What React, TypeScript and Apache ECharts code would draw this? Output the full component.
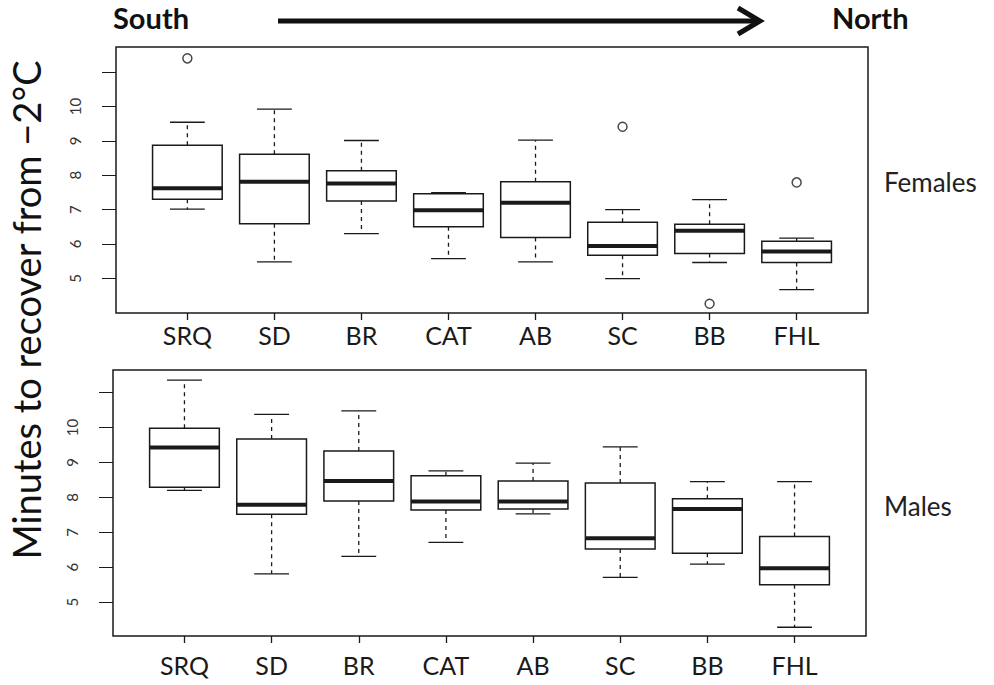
import React, { useEffect, useRef } from "react";
import * as echarts from "echarts";

const categories = ["SRQ", "SD", "BR", "CAT", "AB", "SC", "BB", "FHL"];

// Females: lower whisker, Q1, median, Q3, upper whisker
const femalesLow = [7.01, 5.48, 6.30, 5.57, 5.48, 4.99, 5.46, 4.67];
const femalesQ1 = [7.30, 6.59, 7.25, 6.50, 6.19, 5.67, 5.72, 5.46];
const femalesMedian = [7.62, 7.81, 7.76, 6.98, 7.20, 5.94, 6.38, 5.78];
const femalesQ3 = [8.87, 8.61, 8.13, 7.46, 7.81, 6.63, 6.57, 6.08];
const femalesHigh = [9.54, 9.92, 9.01, 7.49, 9.02, 7.00, 7.29, 6.17];
// outliers: [category index (1-based), value]
const femalesOutliers = [
  [1, 11.40],
  [6, 9.41],
  [7, 4.26],
  [8, 7.79],
];

// Males
const malesLow = [8.20, 5.81, 6.31, 6.71, 7.53, 5.71, 6.09, 4.28];
const malesQ1 = [8.29, 7.52, 7.90, 7.64, 7.67, 6.52, 6.40, 5.50];
const malesMedian = [9.43, 7.79, 8.47, 7.88, 7.88, 6.83, 7.67, 5.97];
const malesQ3 = [9.98, 9.67, 9.33, 8.62, 8.47, 8.41, 7.96, 6.88];
const malesHigh = [11.36, 10.38, 10.48, 8.76, 8.98, 9.45, 8.45, 8.45];
const malesOutliers: number[][] = [];

const yTicks = [5, 6, 7, 8, 9, 10, 11];
const yLabels = [5, 6, 7, 8, 9, 10];
const xPositions = [1, 2, 3, 4, 5, 6, 7, 8];

const FONT = "Lato, 'Open Sans', sans-serif";
const INK = "#1a1a1a";

function buildBox(low: number[], q1: number[], med: number[], q3: number[], high: number[]) {
  return categories.map((_, i) => [i + 1, low[i], q1[i], med[i], q3[i], high[i]]);
}

function renderBox(params: any, api: any) {
  const x = api.value(0);
  const low = api.coord([x, api.value(1)]);
  const q1 = api.coord([x, api.value(2)]);
  const med = api.coord([x, api.value(3)]);
  const q3 = api.coord([x, api.value(4)]);
  const high = api.coord([x, api.value(5)]);
  const bw = api.size([0.8, 0])[0];
  const cw = api.size([0.4, 0])[0];
  const cx = low[0];
  const line = (x1: number, y1: number, x2: number, y2: number, extra: any = {}) => ({
    type: "line",
    shape: { x1, y1, x2, y2 },
    style: { stroke: INK, lineWidth: 1.3, ...extra },
  });
  return {
    type: "group",
    children: [
      line(cx, q3[1], cx, high[1], { lineDash: [4, 4] }),
      line(cx, q1[1], cx, low[1], { lineDash: [4, 4] }),
      line(cx - cw / 2, high[1], cx + cw / 2, high[1]),
      line(cx - cw / 2, low[1], cx + cw / 2, low[1]),
      {
        type: "rect",
        shape: { x: cx - bw / 2, y: q3[1], width: bw, height: q1[1] - q3[1] },
        style: { fill: "#fff", stroke: INK, lineWidth: 1.5 },
      },
      line(cx - bw / 2, med[1], cx + bw / 2, med[1], { lineWidth: 4 }),
    ],
  };
}

function xAxisFor(gridIndex: number, margin: number) {
  return {
    type: "value",
    gridIndex,
    min: 0.18,
    max: 8.82,
    axisLine: { show: false },
    splitLine: { show: false },
    axisTick: { show: true, customValues: xPositions, length: 7, lineStyle: { color: INK, width: 1.3 } },
    axisLabel: {
      customValues: xPositions,
      formatter: (v: number) => categories[Math.round(v) - 1] ?? "",
      fontFamily: FONT,
      fontSize: 25,
      color: INK,
      margin,
    },
  };
}

function yAxisFor(gridIndex: number, min: number, max: number) {
  return {
    type: "value",
    gridIndex,
    min,
    max,
    axisLine: { show: false },
    splitLine: { show: false },
    axisTick: { show: true, customValues: yTicks, length: 14, lineStyle: { color: INK, width: 1 } },
    axisLabel: {
      customValues: yLabels,
      rotate: 90,
      fontFamily: FONT,
      fontSize: 15,
      color: "#333",
      margin: 34,
    },
  };
}

export default function App() {
  const ref = useRef<HTMLDivElement>(null);
  useEffect(() => {
    if (!ref.current) return;
    const chart = echarts.init(ref.current, null, { renderer: "svg" });
    const outlierStyle = {
      symbol: "circle",
      symbolSize: 9,
      itemStyle: { color: "#fff", borderColor: INK, borderWidth: 1.5 },
    };
    chart.setOption({
      animation: false,
      backgroundColor: "#fff",
      grid: [
        { left: 116, top: 47, width: 752, height: 266, show: true, borderColor: INK, borderWidth: 1.5, backgroundColor: "transparent" },
        { left: 113, top: 370, width: 753, height: 266, show: true, borderColor: INK, borderWidth: 1.5, backgroundColor: "transparent" },
      ],
      xAxis: [xAxisFor(0, 9), xAxisFor(1, 16)],
      yAxis: [yAxisFor(0, 3.99, 11.73), yAxisFor(1, 4.03, 11.65)],
      series: [
        {
          type: "custom",
          xAxisIndex: 0,
          yAxisIndex: 0,
          renderItem: renderBox,
          encode: { x: 0, y: [1, 2, 3, 4, 5] },
          data: buildBox(femalesLow, femalesQ1, femalesMedian, femalesQ3, femalesHigh),
        },
        {
          type: "scatter",
          xAxisIndex: 0,
          yAxisIndex: 0,
          data: femalesOutliers,
          ...outlierStyle,
        },
        {
          type: "custom",
          xAxisIndex: 1,
          yAxisIndex: 1,
          renderItem: renderBox,
          encode: { x: 0, y: [1, 2, 3, 4, 5] },
          data: buildBox(malesLow, malesQ1, malesMedian, malesQ3, malesHigh),
        },
        {
          type: "scatter",
          xAxisIndex: 1,
          yAxisIndex: 1,
          data: malesOutliers,
          ...outlierStyle,
        },
      ],
      graphic: [
        {
          type: "text",
          left: 113,
          top: 3,
          style: { text: "South", fontFamily: FONT, fontWeight: "bold", fontSize: 29, fill: "#111" },
        },
        {
          type: "text",
          left: 832,
          top: 3,
          style: { text: "North", fontFamily: FONT, fontWeight: "bold", fontSize: 29, fill: "#111" },
        },
        {
          type: "line",
          shape: { x1: 278, y1: 21, x2: 758, y2: 21 },
          style: { stroke: "#111", lineWidth: 5 },
        },
        {
          type: "polyline",
          shape: { points: [[738, 8], [760, 21], [738, 34]] },
          style: { stroke: "#111", lineWidth: 5, fill: null, lineJoin: "miter" },
        },
        {
          type: "text",
          x: 26,
          y: 310,
          rotation: Math.PI / 2,
          style: {
            text: "Minutes to recover from \u22122\u00b0C",
            fontFamily: FONT,
            fontSize: 38,
            fill: "#111",
            align: "center",
            verticalAlign: "middle",
          },
        },
        {
          type: "text",
          left: 884,
          top: 169,
          style: { text: "Females", fontFamily: FONT, fontSize: 26, fill: "#222" },
        },
        {
          type: "text",
          left: 884,
          top: 493,
          style: { text: "Males", fontFamily: FONT, fontSize: 26, fill: "#222" },
        },
      ],
    });
    return () => chart.dispose();
  }, []);
  return <div ref={ref} style={{ width: 994, height: 685, position: "absolute", left: 0, top: 0 }} />;
}
